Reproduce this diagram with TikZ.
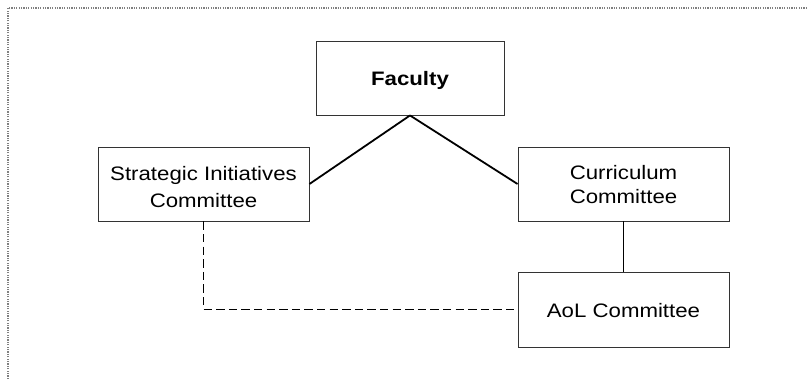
\documentclass[tikz,border=0pt]{standalone}
\usepackage{fontspec}
\setmainfont{Liberation Sans}[FakeStretch=1.14]
\begin{document}
\begin{tikzpicture}[x=1pt,y=-1pt,
  box/.style={draw=black!80, line width=0.9pt, fill=white, inner sep=0pt},
  txt/.style={inner sep=0pt, align=center, font=\fontsize{19.5}{#1}\selectfont},
  txt/.default=29,
  link/.style={draw=black, line width=1.8pt},
  dashlink/.style={draw=black, line width=1.8pt, dash pattern=on 8.3pt off 4.3pt},
  frame/.style={draw=black!50, line width=1.2pt, dash pattern=on 1.2pt off 1.2pt}]
\useasboundingbox (0,0) rectangle (807,379);
\draw[frame] (8,379) -- (8,8) -- (807,8);
\node[box, minimum width=188pt, minimum height=74pt] (fac) at (410,78) {};
\node[box, minimum width=211pt, minimum height=74pt] (sic) at (203.5,184) {};
\node[box, minimum width=211pt, minimum height=74pt] (cc) at (623.5,184) {};
\node[box, minimum width=211pt, minimum height=75pt] (aol) at (623.5,309.5) {};
\node[txt] (fac-t) at ([yshift=-2pt]fac.center) {\textbf{Faculty}};
\node[txt=27] (sic-t) at ([yshift=-3pt]sic.center) {Strategic Initiatives\\Committee};
\node[txt=24] (cc-t) at ([yshift=-1pt]cc.center) {Curriculum\\Committee};
\node[txt] (aol-t) at ([yshift=-1pt]aol.center) {AoL Committee};
\draw[link] (fac.south) -- (sic.east);
\draw[link] (fac.south) -- (cc.west);
\draw[link] (cc.south) -- (aol.north);
\draw[dashlink] (sic.south) |- (aol.west);
\end{tikzpicture}
\end{document}
